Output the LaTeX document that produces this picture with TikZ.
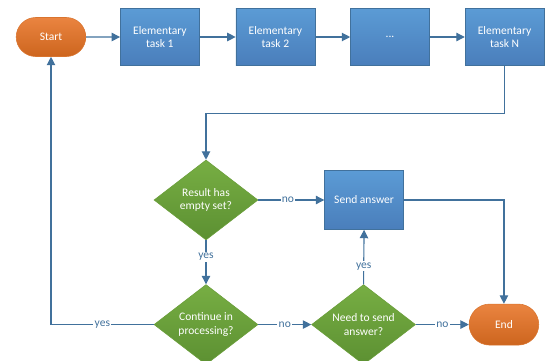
\documentclass[tikz,border=0pt]{standalone}
\usepackage{fontspec}
\setmainfont{Carlito}
\usetikzlibrary{calc,positioning,shapes,shapes.misc,arrows.meta}

\definecolor{flowblue}{HTML}{41719C}
\definecolor{taskline}{HTML}{41719C}
\definecolor{tasktop}{HTML}{5B9BD5}
\definecolor{taskbot}{HTML}{4A7EBB}
\definecolor{termtop}{HTML}{EA8440}
\definecolor{termbot}{HTML}{CD651E}
\definecolor{termline}{HTML}{D9742E}
\definecolor{dectop}{HTML}{77AE43}
\definecolor{decbot}{HTML}{5C9032}
\definecolor{decline}{HTML}{6A9E3A}

\begin{document}
\begin{tikzpicture}[node distance=.875cm, font=\fontsize{8.2}{9.8}\selectfont]
	\tikzstyle{terminal}=[rounded rectangle, text=white, draw=termline, top color=termtop, bottom color=termbot, minimum width=1.975cm, minimum height=.975cm]
	\tikzstyle{task}=[rectangle, align=center, text=white, draw=taskline, top color=tasktop, bottom color=taskbot, minimum width=1.975cm, minimum height=1.425cm]
	\tikzstyle{decision}=[diamond, aspect=1.3, align=center, text=white, draw=decline, top color=dectop, bottom color=decbot, minimum width=2.6cm, minimum height=2cm, inner sep=0pt]
	\tikzstyle{flow}=[->, >={Triangle[width=6pt,length=6pt]}, draw=flowblue, line width=.8pt]
	\tikzstyle{answer}=[text=flowblue, fill=white, inner sep=1pt]

	\useasboundingbox (0,0) rectangle (13.65,-9);

	\node (start) [terminal] at (1.275,-.925) {Start};
	\node (t1) [task, right=.85cm of start] {Elementary\\task 1};
	\node (t2) [task, right=.9cm of t1] {Elementary\\task 2};
	\node (dots) [task] [right=of t2] {...};
	\node (tN) [task, right=of dots] {Elementary\\task N};

	\node (d1) [decision] at (5.15,-5) {Result has\\empty set?};
	\node (send) [task, right=1.65cm of d1, minimum height=1.475cm] {Send answer};
	\node (d2) [decision, below=1.1cm of d1] {Continue in\\processing?};
	\node (d3) [decision, right=1.325cm of d2] {Need to send\\answer?};
	\node (end) [terminal, right=1.325cm of d3, minimum height=1.025cm] {End};

	\coordinate (back) at ($(tN.south)+(0,-1.2)$);

	\draw[flow] (start) -- (t1);
	\draw[flow] (t1) -- (t2);
	\draw[flow] (t2) -- (dots);
	\draw[flow] (dots) -- (tN);
	\draw[flow] (tN.south) -- (back) -| (d1.north);

	\draw[flow] (d1.east) -- node[answer, pos=.45] {no} (send.west);
	\draw[flow] (d1.south) -- node[answer, pos=.38] {yes} (d2.north);
	\draw[flow] (send.east) -| (end.north);
	\draw[flow] (d2.east) -- node[answer] {no} (d3.west);
	\draw[flow] (d3.north) -- node[answer, pos=.33] {yes} (send.south);
	\draw[flow] (d3.east) -- node[answer] {no} (end.west);
	\draw[flow] (d2.west) -| node[answer, pos=.25] {yes} (start.south);
\end{tikzpicture}
\end{document}
